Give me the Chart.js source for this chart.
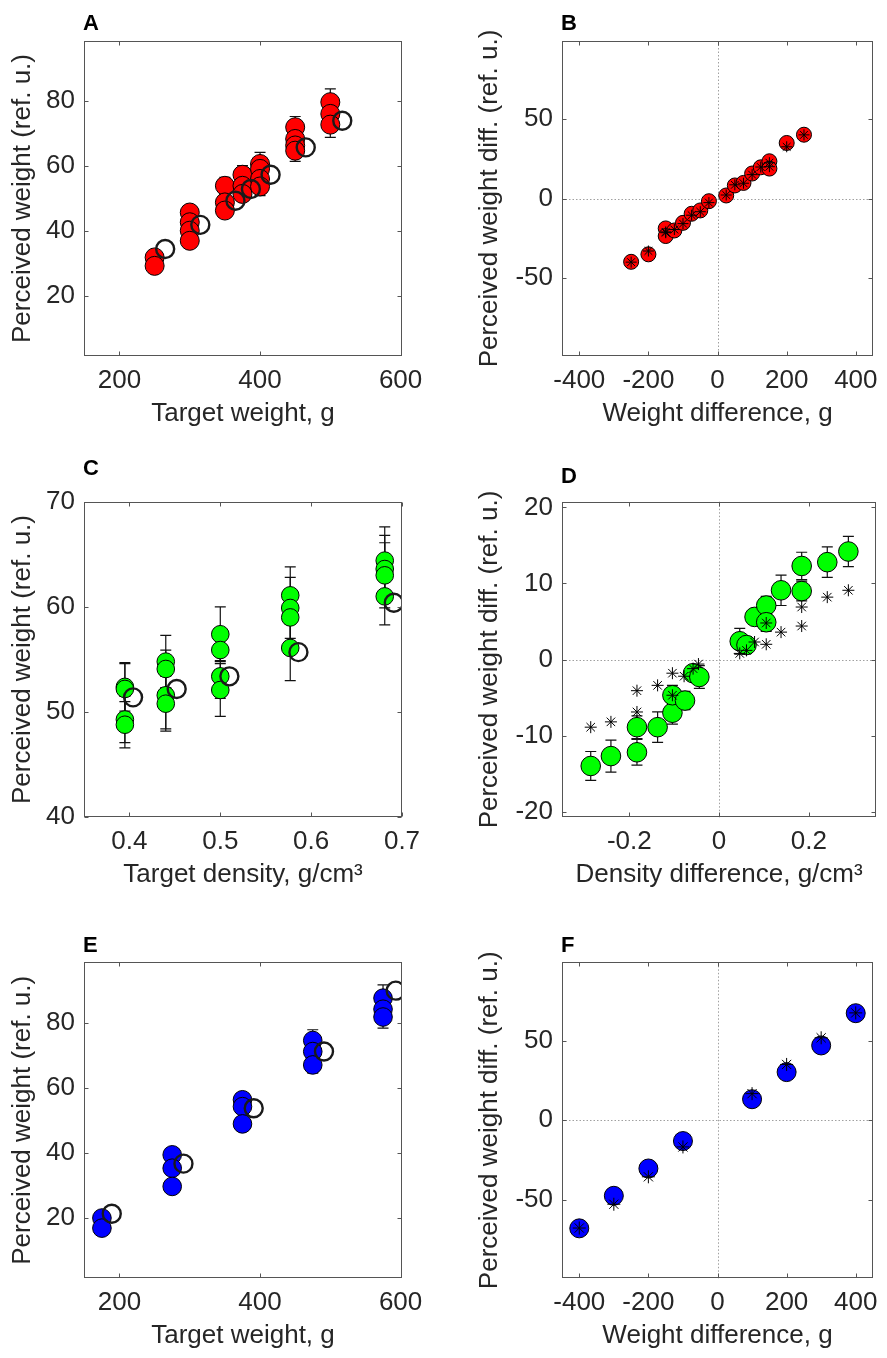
<!DOCTYPE html>
<html>
<head>
<meta charset="utf-8">
<title>Perceived weight panels</title>
<script src="https://cdn.jsdelivr.net/npm/chart.js@4.4.1/dist/chart.umd.min.js"></script>
<style>
body { margin: 0; background: #fff; }
#fig { position: relative; width: 887px; height: 1358px; overflow: hidden; }
#fig canvas { position: absolute; }
</style>
</head>
<body>
<div id="fig">
<canvas id="panelA" width="443" height="440" style="left:0;top:0"></canvas>
<canvas id="panelB" width="444" height="440" style="left:443px;top:0"></canvas>
<canvas id="panelC" width="443" height="460" style="left:0;top:440px"></canvas>
<canvas id="panelD" width="444" height="460" style="left:443px;top:440px"></canvas>
<canvas id="panelE" width="443" height="458" style="left:0;top:900px"></canvas>
<canvas id="panelF" width="444" height="458" style="left:443px;top:900px"></canvas>
</div>
<script>
// ---------- data ----------

// A: perceived weight vs target weight
var aTargetWeight = [250, 250, 300, 300, 300, 300, 350, 350, 350, 375, 375, 375, 400, 400, 400, 400, 450, 450, 450, 450, 500, 500, 500];
var aPerceived    = [31.8, 29.2, 45.6, 42.6, 40.0, 36.9, 53.8, 48.7, 46.2, 57.2, 53.8, 51.3, 60.5, 59.0, 55.9, 53.6, 71.8, 68.2, 66.2, 64.6, 79.5, 75.9, 72.6];
var aError        = [1.5, 1.2, 2.1, 2.4, 2.2, 2.0, 2.6, 2.4, 2.0, 2.8, 2.6, 2.1, 3.6, 3.0, 2.8, 2.8, 3.3, 3.2, 2.9, 3.3, 4.1, 3.5, 3.9];
var aModelWeight  = [265, 315, 365, 387, 415, 465, 517];
var aModelValue   = [34.4, 41.8, 49.2, 52.8, 57.2, 65.6, 73.8];

// B: perceived weight difference vs weight difference
var bWeightDiff   = [-250, -200, -150, -150, -125, -100, -75, -50, -25, 25, 50, 75, 100, 125, 150, 150, 200, 250];
var bPerceived    = [-39.8, -35.1, -18.8, -23.6, -20.1, -15.3, -9.6, -7.5, -1.7, 1.9, 8.2, 9.8, 15.7, 19.6, 23.4, 18.8, 34.9, 40.1];
var bError        = [1.8, 1.8, 1.6, 1.7, 1.6, 1.7, 1.5, 1.5, 1.4, 1.4, 1.6, 1.6, 1.7, 1.7, 1.8, 1.7, 1.9, 2.0];
var bModel        = [-40.0, -33.0, -21.5, -21.0, -19.5, -15.8, -10.5, -8.3, -2.6, 2.2, 8.6, 9.6, 15.0, 19.8, 22.5, 20.0, 32.5, 40.0];

// C: perceived weight vs target density
var cDensity      = [0.395, 0.395, 0.395, 0.395, 0.44, 0.44, 0.44, 0.44, 0.5, 0.5, 0.5, 0.5, 0.577, 0.577, 0.577, 0.577, 0.681, 0.681, 0.681, 0.681];
var cPerceived    = [52.4, 52.2, 49.3, 48.8, 54.8, 54.1, 51.6, 50.8, 57.4, 55.9, 53.4, 52.1, 61.1, 59.9, 59.0, 56.1, 64.4, 63.6, 63.0, 61.0];
var cError        = [2.3, 2.4, 2.2, 2.2, 2.5, 1.8, 3.2, 2.6, 2.6, 1.0, 2.1, 2.5, 2.7, 2.9, 2.3, 3.1, 3.2, 3.2, 3.1, 2.7];
var cModelDensity = [0.404, 0.452, 0.51, 0.586, 0.691];
var cModelValue   = [51.4, 52.2, 53.4, 55.7, 60.4];

// D: perceived weight difference vs density difference
var dDensityDiff  = [-0.286, -0.241, -0.183, -0.183, -0.137, -0.104, -0.104, -0.076, -0.058, -0.044, 0.046, 0.061, 0.079, 0.105, 0.105, 0.138, 0.184, 0.184, 0.241, 0.288];
var dPerceived    = [-14.0, -12.7, -8.9, -12.2, -8.9, -7.0, -4.7, -5.4, -1.8, -2.3, 2.4, 1.9, 5.6, 7.1, 4.9, 9.1, 12.3, 9.0, 12.8, 14.2];
var dError        = [1.9, 2.1, 1.5, 1.7, 2.0, 1.5, 1.3, 1.2, 1.0, 1.5, 1.7, 1.1, 1.0, 1.2, 1.2, 2.0, 1.8, 1.3, 2.0, 2.0];
var dModelDiff    = [-0.286, -0.241, -0.183, -0.183, -0.137, -0.104, -0.104, -0.078, -0.058, -0.046, 0.046, 0.061, 0.079, 0.105, 0.105, 0.138, 0.184, 0.184, 0.241, 0.288];
var dModel        = [-8.9, -8.2, -4.1, -6.9, -3.4, -1.8, -4.7, -2.2, -1.2, -0.6, 0.8, 1.2, 2.3, 2.0, 4.8, 3.6, 4.4, 6.9, 8.2, 9.1];

// E: perceived weight vs target weight (second set)
var eTargetWeight = [175, 175, 275, 275, 275, 375, 375, 375, 475, 475, 475, 575, 575, 575];
var ePerceived    = [20.0, 16.9, 39.4, 35.3, 29.7, 56.3, 54.2, 48.9, 74.5, 71.1, 67.0, 87.5, 84.1, 81.7];
var eError        = [1.2, 1.5, 2.0, 2.0, 1.5, 1.5, 2.0, 1.8, 3.3, 2.5, 2.5, 4.1, 2.8, 3.4];
var eModelWeight  = [189, 291, 391, 491, 593];
var eModelValue   = [21.3, 36.7, 53.7, 71.1, 89.8];

// F: perceived weight difference vs weight difference (second set)
var fWeightDiff   = [-400, -300, -200, -100, 100, 200, 300, 400];
var fPerceived    = [-67.7, -47.3, -30.2, -13.0, 13.2, 30.2, 46.9, 67.1];
var fError        = [2.2, 2.5, 2.5, 2.6, 2.5, 2.5, 2.3, 2.2];
var fModel        = [-67.5, -52.6, -35.4, -16.7, 16.7, 35.0, 51.7, 67.3];

// axis ticks
var weightTicks     = [200, 400, 600];
var weightDiffTicks = [-400, -200, 0, 200, 400];
var percTicks       = [20, 40, 60, 80];
var percDiffTicks   = [-50, 0, 50];
var densityTicks    = [0.4, 0.5, 0.6, 0.7];
var densDiffTicks   = [-0.2, 0, 0.2];
var percCTicks      = [40, 50, 60, 70];
var percDTicks      = [-20, -10, 0, 10, 20];

// ---------- layout ----------
var X_AXIS_H = 73.6;
var ROWS = [
    {top: 41, bottom: 356, h: 440},
    {top: 61.7, bottom: 377.3, h: 460},
    {top: 62.3, bottom: 378.3, h: 458}
];
var COLS = [
    {left: 84, right: 402, w: 443, yTitleX: 23.3},
    {left: 119, right: 435.3, w: 444, yTitleX: 47.3}
];
var TEXT = '#262626';
var FONT = "'Liberation Sans', Arial, Helvetica, sans-serif";

Chart.defaults.font.family = FONT;
Chart.defaults.font.size = 26;
Chart.defaults.color = TEXT;

function pts(xs, ys) {
    return xs.map(function (x, i) { return {x: x, y: ys[i]}; });
}

// MATLAB style box, inward ticks, dotted zero lines, panel letter, y title
var panelDecor = {
    id: 'panelDecor',
    beforeDatasetsDraw: function (chart, args, opts) {
        if (!opts.zeroLines) return;
        var ctx = chart.ctx, a = chart.chartArea;
        var x0 = Math.round(chart.scales.x.getPixelForValue(0)) + 0.5;
        var y0 = Math.round(chart.scales.y.getPixelForValue(0)) + 0.5;
        ctx.save();
        ctx.strokeStyle = '#a0a0a0';
        ctx.lineWidth = 1;
        ctx.setLineDash([1.5, 2]);
        ctx.beginPath();
        ctx.moveTo(x0, a.top); ctx.lineTo(x0, a.bottom);
        ctx.moveTo(a.left, y0); ctx.lineTo(a.right, y0);
        ctx.stroke();
        ctx.restore();
    },
    afterDatasetsDraw: function (chart) {
        var ctx = chart.ctx, a = chart.chartArea;
        var xs = chart.scales.x, ys = chart.scales.y;
        var L = Math.round(a.left) + 0.5, R = Math.round(a.right) - 0.5;
        var T = Math.round(a.top) + 0.5, B = Math.round(a.bottom) - 0.5;
        var tl = 4;
        ctx.save();
        ctx.strokeStyle = '#555';
        ctx.lineWidth = 1;
        ctx.beginPath();
        xs.ticks.forEach(function (t) {
            var px = Math.round(xs.getPixelForValue(t.value)) + 0.5;
            ctx.moveTo(px, B); ctx.lineTo(px, B - tl);
            ctx.moveTo(px, T); ctx.lineTo(px, T + tl);
        });
        ys.ticks.forEach(function (t) {
            var py = Math.round(ys.getPixelForValue(t.value)) + 0.5;
            ctx.moveTo(L, py); ctx.lineTo(L + tl, py);
            ctx.moveTo(R, py); ctx.lineTo(R - tl, py);
        });
        ctx.stroke();
        ctx.strokeRect(L, T, R - L, B - T);
        ctx.restore();
    },
    afterDraw: function (chart, args, opts) {
        var ctx = chart.ctx, a = chart.chartArea;
        ctx.save();
        ctx.fillStyle = '#000';
        ctx.font = 'bold 22px ' + FONT;
        ctx.textAlign = 'left';
        ctx.textBaseline = 'alphabetic';
        ctx.fillText(opts.letter, a.left - 1, a.top + opts.letterDy);
        ctx.fillStyle = TEXT;
        ctx.font = '26px ' + FONT;
        ctx.textAlign = 'center';
        ctx.textBaseline = 'middle';
        ctx.translate(opts.yTitleX, (a.top + a.bottom) / 2);
        ctx.rotate(-Math.PI / 2);
        ctx.fillText(opts.yTitle, 0, 0);
        ctx.restore();
    }
};

// vertical error bars with caps, drawn from each dataset's "errors" array
var errorBars = {
    id: 'errorBars',
    beforeDatasetsDraw: function (chart) {
        var ctx = chart.ctx, xs = chart.scales.x, ys = chart.scales.y;
        ctx.save();
        ctx.strokeStyle = '#111';
        ctx.lineWidth = 1.2;
        chart.data.datasets.forEach(function (ds) {
            if (!ds.errors) return;
            ds.data.forEach(function (p, i) {
                var e = ds.errors[i];
                var px = xs.getPixelForValue(p.x);
                var top = ys.getPixelForValue(p.y + e), bot = ys.getPixelForValue(p.y - e);
                ctx.beginPath();
                ctx.moveTo(px, top); ctx.lineTo(px, bot);
                ctx.moveTo(px - 5.5, top); ctx.lineTo(px + 5.5, top);
                ctx.moveTo(px - 5.5, bot); ctx.lineTo(px + 5.5, bot);
                ctx.stroke();
            });
        });
        ctx.restore();
    }
};

function observed(xs, ys, errs, color, r) {
    return {data: pts(xs, ys), errors: errs, backgroundColor: color, borderColor: '#000',
        borderWidth: 1, pointRadius: r, pointHoverRadius: r};
}
function openModel(xs, ys) {
    return {data: pts(xs, ys), backgroundColor: 'rgba(0,0,0,0)', borderColor: '#1a1a1a',
        borderWidth: 2.4, pointRadius: 9, pointHoverRadius: 9};
}
function starModel(xs, ys, r) {
    return {data: pts(xs, ys), pointStyle: 'star', backgroundColor: '#000', borderColor: '#000',
        borderWidth: 1, pointRadius: r, pointHoverRadius: r};
}

function axis(range, ticks) {
    return {
        type: 'linear', min: range[0], max: range[1],
        afterBuildTicks: function (s) { s.ticks = ticks.map(function (v) { return {value: v}; }); },
        grid: {display: false, drawTicks: false},
        border: {display: false},
        ticks: {padding: 9, autoSkip: false, maxRotation: 0, color: TEXT,
            callback: function (v) { return String(v); }}
    };
}

function buildPanel(id, p) {
    var row = ROWS[p.row], col = COLS[p.col];
    var x = axis(p.xRange, p.xTicks);
    x.afterFit = function (s) { s.height = X_AXIS_H; };
    x.title = {display: true, text: p.xTitle, color: TEXT, padding: {top: 0, bottom: 0}};
    var y = axis(p.yRange, p.yTicks);
    y.afterFit = function (s) { s.width = col.left; };
    return new Chart(document.getElementById(id), {
        type: 'scatter',
        data: {datasets: p.datasets},
        options: {
            responsive: false,
            animation: false,
            events: [],
            layout: {padding: {top: row.top, bottom: row.h - row.bottom - X_AXIS_H, left: 0, right: col.w - col.right}},
            plugins: {
                legend: {display: false},
                tooltip: {enabled: false},
                panelDecor: {letter: p.letter, letterDy: p.letterDy, yTitle: p.yTitle,
                    yTitleX: col.yTitleX, zeroLines: !!p.zeroLines}
            },
            scales: {x: x, y: y}
        },
        plugins: [panelDecor, errorBars]
    });
}

var RED = '#ff0000', GREEN = '#00ff00', BLUE = '#0000ff';
var yAbs = 'Perceived weight (ref. u.)';
var yDiff = 'Perceived weight diff. (ref. u.)';

buildPanel('panelA', {
    row: 0, col: 0, letter: 'A', letterDy: -11,
    xRange: [149.5, 602], xTicks: weightTicks, xTitle: 'Target weight, g',
    yRange: [1.5, 98.3], yTicks: percTicks, yTitle: yAbs,
    datasets: [openModel(aModelWeight, aModelValue), observed(aTargetWeight, aPerceived, aError, RED, 9.5)]
});
buildPanel('panelB', {
    row: 0, col: 1, letter: 'B', letterDy: -11, zeroLines: true,
    xRange: [-450, 450], xTicks: weightDiffTicks, xTitle: 'Weight difference, g',
    yRange: [-99, 99], yTicks: percDiffTicks, yTitle: yDiff,
    datasets: [starModel(bWeightDiff, bModel, 5.5), observed(bWeightDiff, bPerceived, bError, RED, 7.5)]
});
buildPanel('panelC', {
    row: 1, col: 0, letter: 'C', letterDy: -26.7,
    xRange: [0.35, 0.7], xTicks: densityTicks, xTitle: 'Target density, g/cm\u00b3',
    yRange: [40, 70], yTicks: percCTicks, yTitle: yAbs,
    datasets: [openModel(cModelDensity, cModelValue), observed(cDensity, cPerceived, cError, GREEN, 8.8)]
});
buildPanel('panelD', {
    row: 1, col: 1, letter: 'D', letterDy: -19, zeroLines: true,
    xRange: [-0.35, 0.35], xTicks: densDiffTicks, xTitle: 'Density difference, g/cm\u00b3',
    yRange: [-20.75, 20.75], yTicks: percDTicks, yTitle: yDiff,
    datasets: [starModel(dModelDiff, dModel, 6), observed(dDensityDiff, dPerceived, dError, GREEN, 9.8)]
});
buildPanel('panelE', {
    row: 2, col: 0, letter: 'E', letterDy: -10.6,
    xRange: [149.5, 602], xTicks: weightTicks, xTitle: 'Target weight, g',
    yRange: [1.5, 98.5], yTicks: percTicks, yTitle: yAbs,
    datasets: [openModel(eModelWeight, eModelValue), observed(eTargetWeight, ePerceived, eError, BLUE, 9.3)]
});
buildPanel('panelF', {
    row: 2, col: 1, letter: 'F', letterDy: -10.6, zeroLines: true,
    xRange: [-450, 450], xTicks: weightDiffTicks, xTitle: 'Weight difference, g',
    yRange: [-99, 99], yTicks: percDiffTicks, yTitle: yDiff,
    datasets: [starModel(fWeightDiff, fModel, 6.5), observed(fWeightDiff, fPerceived, fError, BLUE, 9.5)]
});
</script>
</body>
</html>
